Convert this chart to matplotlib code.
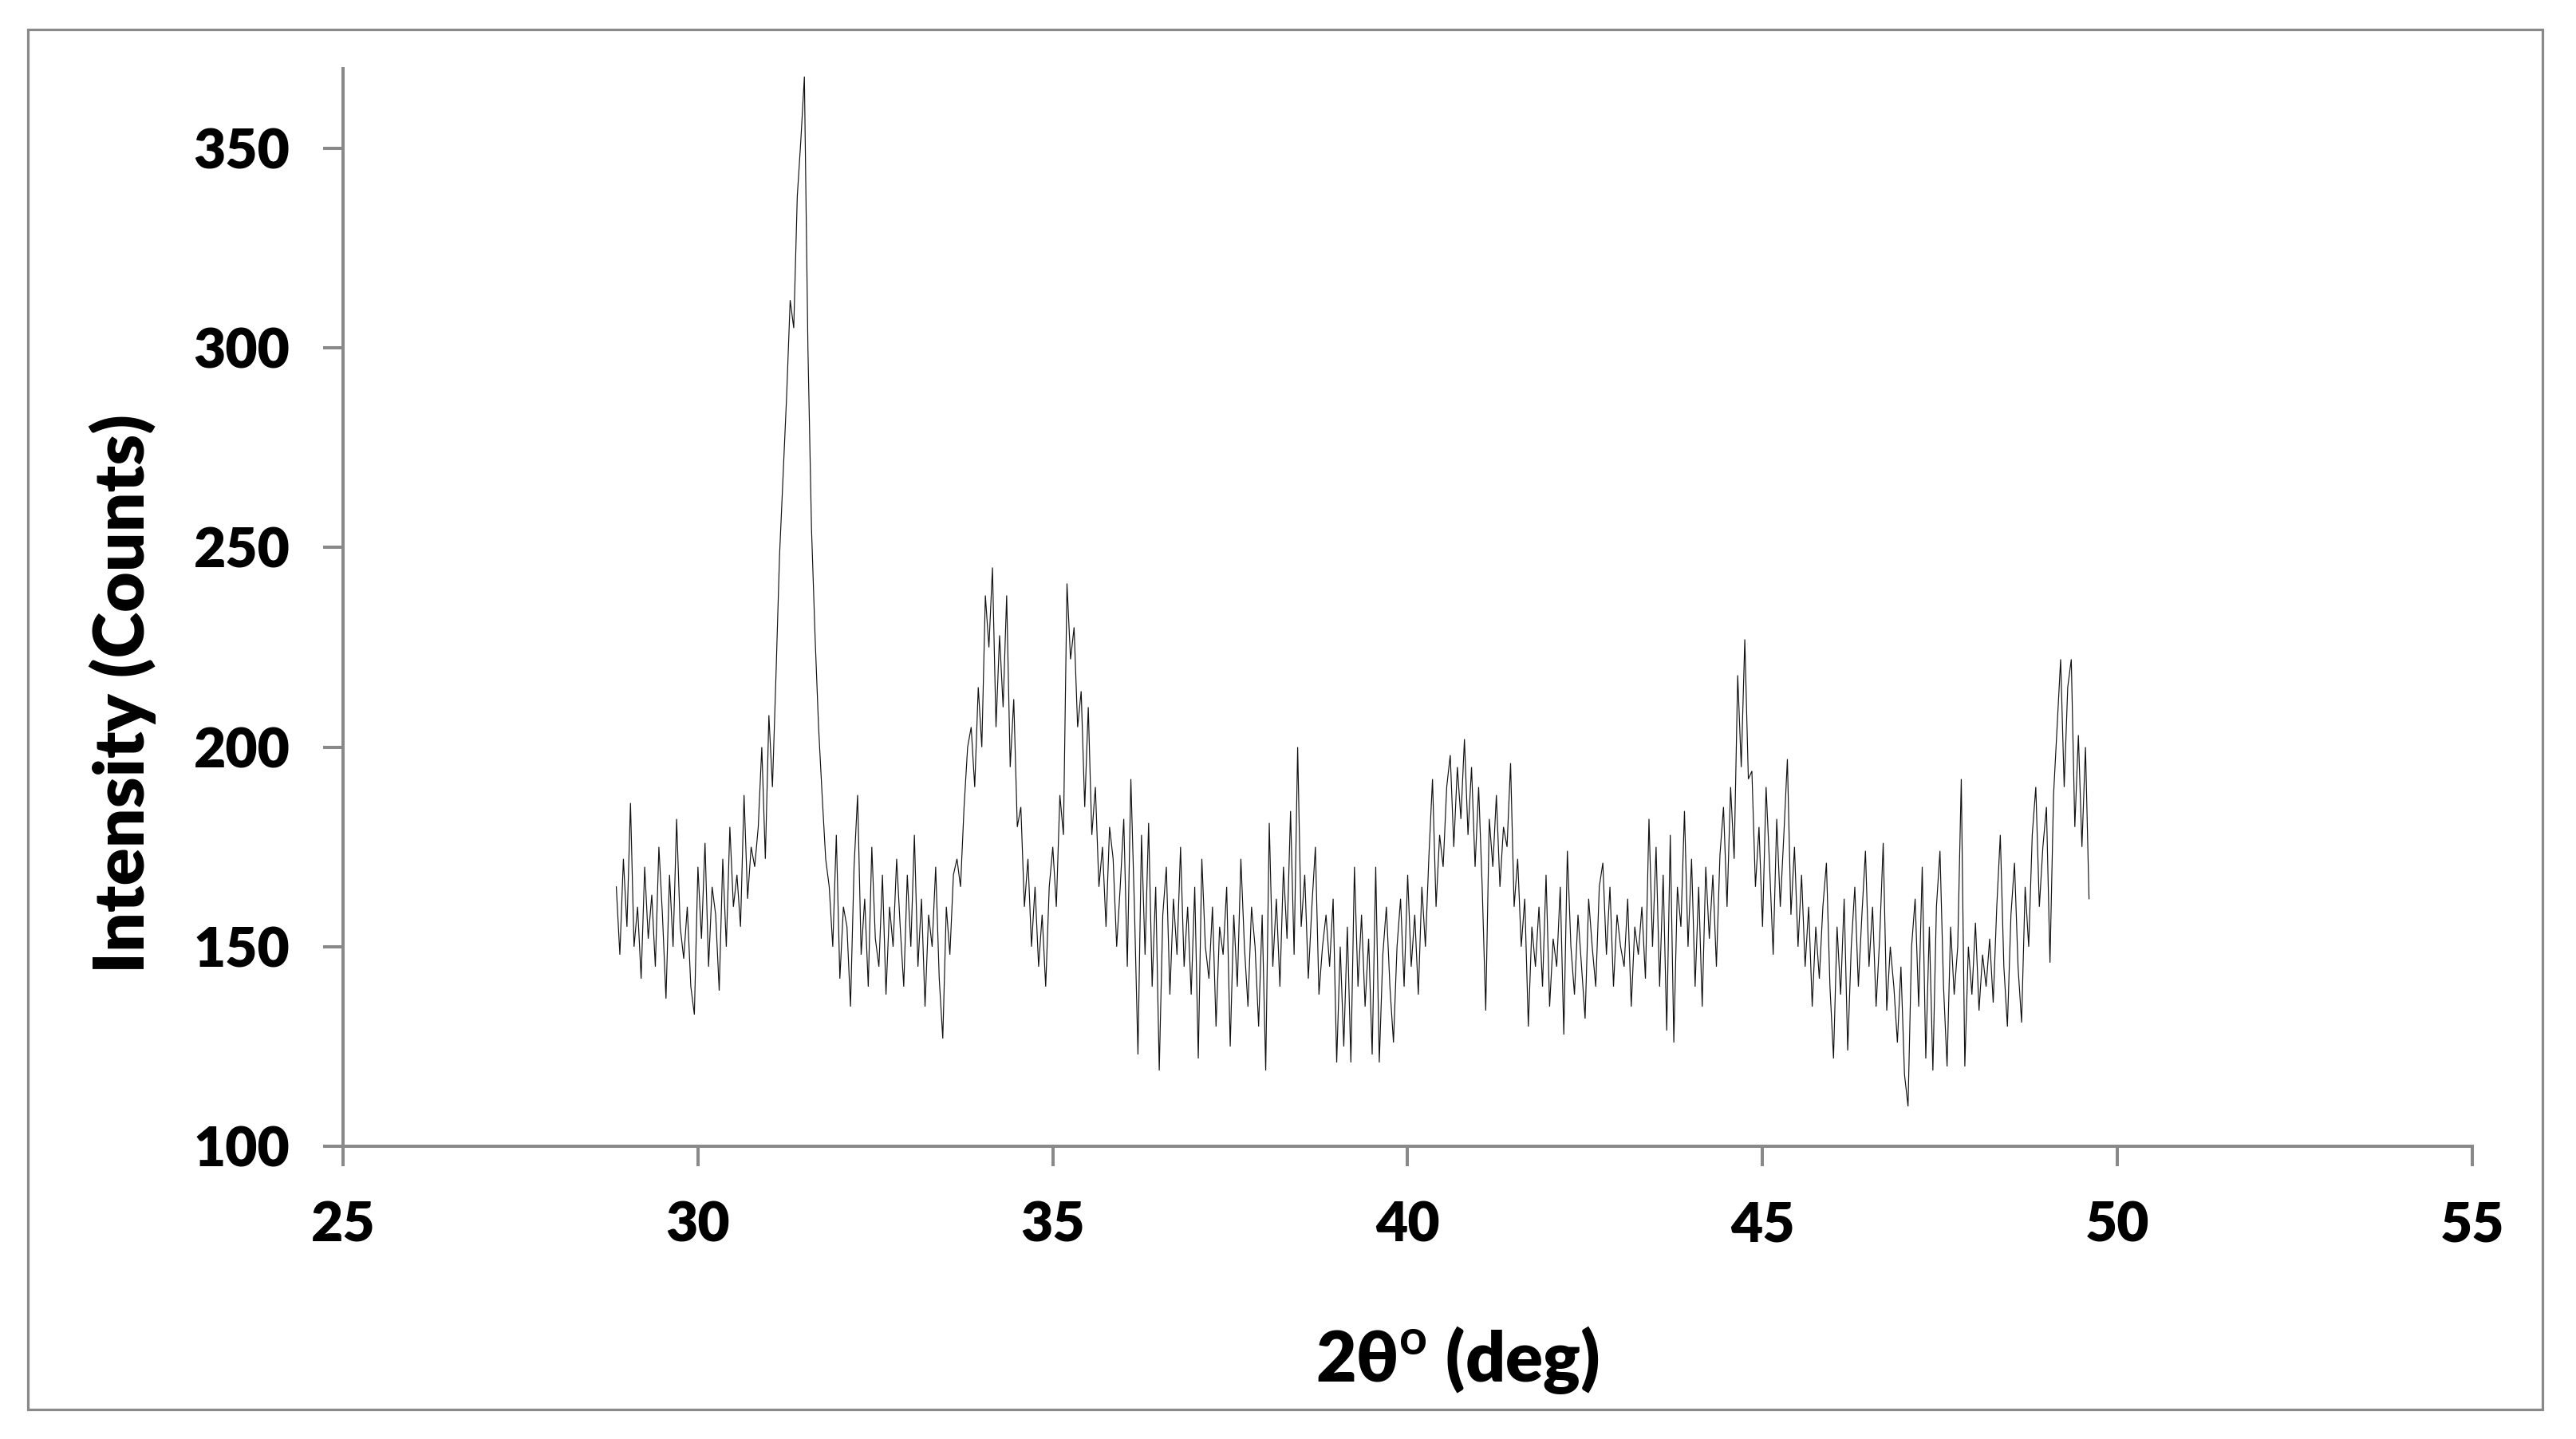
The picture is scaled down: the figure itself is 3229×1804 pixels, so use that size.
import numpy as np
import matplotlib
matplotlib.use("Agg")
import matplotlib.pyplot as plt
from matplotlib.patches import Rectangle

# ---- data (2theta scan, step 0.05 deg, 28.85 -> 49.60) ----
two_theta_start = 28.85
two_theta_end = 49.60

counts_rows = [
    [165, 148, 172, 155, 186, 150, 160, 142, 170, 152, 163, 145, 175, 158, 137, 168, 150, 182, 155, 147],  # 28.85-29.80
    [160, 140, 133, 170, 152, 176, 145, 165, 158, 139, 172, 150, 180, 160, 168, 155, 188, 162, 175, 170],  # 29.85-30.80
    [180, 200, 172, 208, 190, 218, 248, 268, 288, 312, 305, 338, 352, 368, 300, 255, 228, 205, 188, 172],  # 30.85-31.80
    [165, 150, 178, 142, 160, 155, 135, 170, 188, 148, 162, 140, 175, 152, 145, 168, 138, 160, 150, 172],  # 31.85-32.80
    [155, 140, 168, 150, 178, 145, 162, 135, 158, 150, 170, 142, 127, 160, 148, 168, 172, 165, 185, 200],  # 32.85-33.80
    [205, 190, 215, 200, 238, 225, 245, 205, 228, 210, 238, 195, 212, 180, 185, 160, 172, 150, 165, 145],  # 33.85-34.80
    [158, 140, 165, 175, 160, 188, 178, 241, 222, 230, 205, 214, 185, 210, 178, 190, 165, 175, 155, 180],  # 34.85-35.80
    [172, 150, 165, 182, 145, 192, 160, 123, 178, 148, 181, 140, 165, 119, 158, 170, 138, 162, 148, 175],  # 35.85-36.80
    [145, 160, 138, 165, 122, 172, 150, 142, 160, 130, 155, 148, 165, 125, 158, 140, 172, 150, 135, 160],  # 36.85-37.80
    [150, 130, 158, 119, 181, 145, 162, 140, 170, 152, 184, 148, 200, 155, 168, 142, 160, 175, 138, 150],  # 37.85-38.80
    [158, 145, 162, 121, 150, 125, 155, 121, 170, 140, 158, 135, 152, 123, 170, 121, 148, 160, 140, 126],  # 38.85-39.80
    [150, 162, 140, 168, 145, 158, 138, 165, 150, 173, 192, 160, 178, 170, 190, 198, 175, 195, 182, 202],  # 39.85-40.80
    [178, 195, 170, 190, 165, 134, 182, 170, 188, 165, 180, 175, 196, 160, 172, 150, 162, 130, 155, 145],  # 40.85-41.80
    [160, 140, 168, 135, 152, 145, 165, 128, 174, 150, 138, 158, 145, 132, 162, 150, 140, 165, 171, 148],  # 41.85-42.80
    [165, 140, 158, 150, 145, 162, 135, 155, 148, 160, 142, 182, 150, 175, 140, 168, 129, 178, 126, 165],  # 42.85-43.80
    [155, 184, 150, 172, 140, 165, 135, 170, 152, 168, 145, 173, 185, 160, 190, 172, 218, 195, 227, 192],  # 43.85-44.80
    [194, 165, 180, 155, 190, 170, 148, 182, 160, 178, 197, 158, 175, 150, 168, 145, 160, 135, 155, 142],  # 44.85-45.80
    [160, 171, 140, 122, 155, 138, 162, 124, 150, 165, 140, 158, 174, 145, 160, 135, 152, 176, 134, 150],  # 45.85-46.80
    [140, 126, 145, 118, 110, 150, 162, 135, 170, 122, 155, 119, 160, 174, 140, 120, 155, 138, 150, 192],  # 46.85-47.80
    [120, 150, 138, 156, 134, 148, 140, 152, 136, 160, 178, 145, 130, 158, 171, 145, 131, 165, 150, 178],  # 47.85-48.80
    [190, 160, 175, 185, 146, 188, 205, 222, 190, 215, 222, 180, 203, 175, 200, 162],                      # 48.85-49.60
]

x_ticks = [25, 30, 35, 40, 45, 50, 55]
y_ticks = [100, 150, 200, 250, 300, 350]
x_label = "2θ$^{\\mathbf{o}}$ (deg)"
y_label = "Intensity (Counts)"

counts = np.concatenate([np.array(r, dtype=float) for r in counts_rows])
two_theta = np.linspace(two_theta_start, two_theta_end, len(counts))

# ---- figure ----
FONT = ["Lato", "DejaVu Sans"]
plt.rcParams["font.family"] = FONT
plt.rcParams["font.weight"] = "bold"
plt.rcParams["mathtext.fontset"] = "custom"
plt.rcParams["mathtext.bf"] = "Lato:bold"
plt.rcParams["mathtext.rm"] = "Lato:bold"

W, H, DPI = 3229, 1804, 100
fig = plt.figure(figsize=(W / DPI, H / DPI), dpi=DPI)
fig.patch.set_facecolor("white")

GRAY = "#898989"

# outer chart border
fig.patches.append(Rectangle((35 / W, 1 - 1767 / H), (3187 - 35) / W, (1767 - 37) / H,
                             transform=fig.transFigure, fill=False,
                             edgecolor=GRAY, linewidth=2.3, zorder=0))

ax = fig.add_axes([430 / W, 1 - 1437 / H, (3099 - 430) / W, (1437 - 86) / H])
ax.plot(two_theta, counts, color="#111111", linewidth=0.85, solid_joinstyle="miter")

ax.set_xlim(25, 55)
ax.set_ylim(100, 370)
ax.set_xticks(x_ticks)
ax.set_yticks(y_ticks)

for side in ["top", "right"]:
    ax.spines[side].set_visible(False)
for side in ["left", "bottom"]:
    ax.spines[side].set_color(GRAY)
    ax.spines[side].set_linewidth(2.9)

ax.tick_params(axis="both", direction="out", length=18, width=2.9, color=GRAY,
               labelsize=50, labelcolor="black")
ax.tick_params(axis="y", pad=30)
ax.tick_params(axis="x", pad=31)
for lab in ax.get_xticklabels() + ax.get_yticklabels():
    lab.set_fontweight("heavy")

fig.text(1827 / W, 1 - 1732 / H, x_label, ha="center", va="baseline",
         fontsize=63, fontweight="heavy")
fig.text(154 / W, 1 - 870 / H, y_label, ha="center", va="center", rotation=90,
         fontsize=63, fontweight="heavy")

fig.savefig("out.png", dpi=DPI, facecolor="white")
